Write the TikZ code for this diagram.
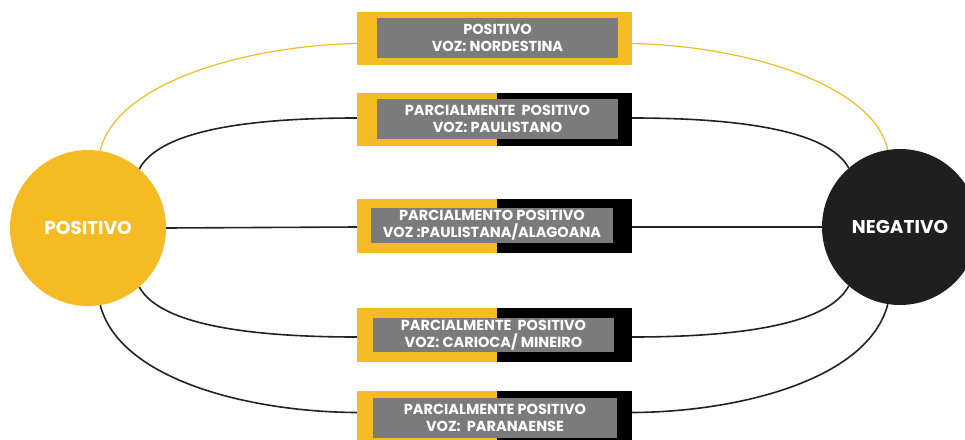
\documentclass[tikz,border=0pt]{standalone}
\usepackage{fontspec}
\setmainfont{Poppins}[BoldFont={Poppins Bold}]
\usetikzlibrary{calc}
\definecolor{ylw}{HTML}{F5BB25}
\definecolor{gry}{HTML}{7B7B7B}
\definecolor{dark}{HTML}{1F1F1F}
\definecolor{lne}{HTML}{222222}
\begin{document}
\begin{tikzpicture}[x=1pt,y=-1pt,
  circ/.style={circle, minimum size=156pt, inner sep=0pt, text=white, font=\fontsize{18.5}{20}\selectfont\bfseries},
  outerbox/.style={minimum width=275pt, minimum height=53pt, inner sep=0pt},
  innerbox/.style={fill=gry, text=white, align=center, inner sep=0pt, font=\fontsize{14.5}{17}\selectfont\bfseries},
  yline/.style={draw=ylw, line width=1.2pt},
  bline/.style={draw=lne, line width=1.6pt}]
\useasboundingbox (0,0) rectangle (965,439);
\clip (0,0) rectangle (965,439);
\fill[white] (0,0) rectangle (965,439);

% circles
\node[circ, fill=ylw] (pos) at (88,228) {POSITIVO};
\node[circ, fill=dark] (neg) at (900,227) {NEGATIVO};

% box 1
\node[outerbox, fill=ylw] (b1) at (494.5,38.5) {};
\node[innerbox, minimum width=241pt, minimum height=40pt] (g1) at (497.5,38) {POSITIVO\\VOZ: NORDESTINA};

% box 2
\node[outerbox] (b2) at (494.5,119.5) {};
\fill[ylw] (b2.south west) rectangle ($(b2.north)+(2.5,0)$);
\fill[black] ($(b2.south)+(2.5,0)$) rectangle (b2.north east);
\node[innerbox, minimum width=241pt, minimum height=40pt] (g2) at (497.5,119) {PARCIALMENTE\ \ POSITIVO\\VOZ: PAULISTANO};

% box 3
\node[outerbox] (b3) at (494.5,226) {};
\fill[ylw] (b3.south west) rectangle ($(b3.north)+(2.5,0)$);
\fill[black] ($(b3.south)+(2.5,0)$) rectangle (b3.north east);
\node[innerbox, minimum width=242pt, minimum height=35pt] (g3) at (492,225.5) {PARCIALMENTO POSITIVO\\VOZ :PAULISTANA/ALAGOANA};

% box 4
\node[outerbox] (b4) at (494.5,335) {};
\fill[ylw] (b4.south west) rectangle ($(b4.north)+(2.5,0)$);
\fill[black] ($(b4.south)+(2.5,0)$) rectangle (b4.north east);
\node[innerbox, minimum width=241pt, minimum height=34pt] (g4) at (493.5,335) {PARCIALMENTE\ \ POSITIVO\\VOZ: CARIOCA/ MINEIRO};

% box 5
\node[outerbox] (b5) at (494.5,417.5) {};
\fill[ylw] (b5.south west) rectangle ($(b5.north)+(2.5,0)$);
\fill[black] ($(b5.south)+(2.5,0)$) rectangle (b5.north east);
\node[innerbox, minimum width=244pt, minimum height=40pt] (g5) at (495,418) {PARCIALMENTE POSITIVO\\VOZ:\ \ PARANAENSE};

% connectors left
\draw[yline] (pos.81) .. controls (115,85) and (240,46) .. ($(b1.west)+(0,5)$);
\draw[bline] (pos.49) .. controls (160,130) and (250,118) .. ($(b2.west)+(0,-1.5)$);
\draw[bline] (pos.east) -- ($(b3.west)+(0,1)$);
\draw[bline] (pos.311) .. controls (160,325) and (250,337) .. ($(b4.west)+(0,2)$);
\draw[bline] (pos.279) .. controls (120,380) and (250,412) .. ($(b5.west)+(0,-5)$);

% connectors right
\draw[yline] ($(b1.east)+(0,5)$) .. controls (748,46) and (873,85) .. (neg.99);
\draw[bline] ($(b2.east)+(0,-1.5)$) .. controls (738,118) and (828,130) .. (neg.131);
\draw[bline] ($(b3.east)+(0,1)$) -- (neg.west);
\draw[bline] ($(b4.east)+(0,2)$) .. controls (738,337) and (828,325) .. (neg.229);
\draw[bline] ($(b5.east)+(0,-5)$) .. controls (738,412) and (868,380) .. (neg.261);
\end{tikzpicture}
\end{document}
